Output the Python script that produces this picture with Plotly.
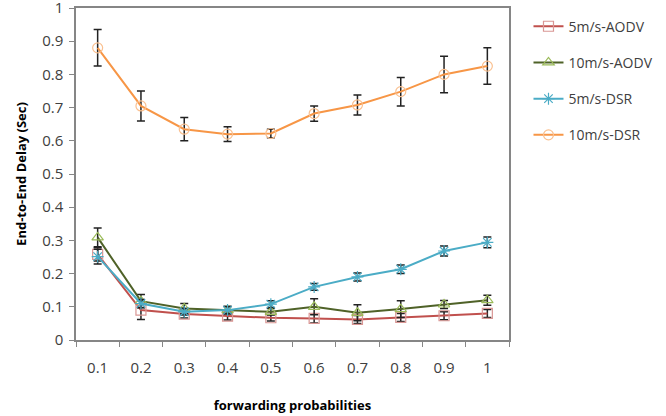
import plotly.graph_objects as go

categories = ["0.1", "0.2", "0.3", "0.4", "0.5", "0.6", "0.7", "0.8", "0.9", "1"]
y_ticks = [0, 0.1, 0.2, 0.3, 0.4, 0.5, 0.6, 0.7, 0.8, 0.9, 1]
y_tick_labels = ["0", "0.1", "0.2", "0.3", "0.4", "0.5", "0.6", "0.7", "0.8", "0.9", "1"]

aodv5 = [0.258, 0.090, 0.078, 0.072, 0.067, 0.065, 0.062, 0.068, 0.073, 0.080]
aodv5_err = [0.020, 0.028, 0.012, 0.012, 0.010, 0.014, 0.012, 0.012, 0.012, 0.012]

aodv10 = [0.309, 0.117, 0.095, 0.090, 0.085, 0.100, 0.082, 0.093, 0.107, 0.120]
aodv10_err = [0.028, 0.020, 0.015, 0.012, 0.010, 0.024, 0.024, 0.025, 0.012, 0.015]

dsr5 = [0.251, 0.110, 0.085, 0.090, 0.108, 0.160, 0.190, 0.213, 0.268, 0.294]
dsr5_err = [0.022, 0.012, 0.010, 0.010, 0.010, 0.010, 0.012, 0.013, 0.015, 0.016]

dsr10 = [0.880, 0.705, 0.635, 0.620, 0.622, 0.682, 0.708, 0.748, 0.800, 0.825]
dsr10_err = [0.055, 0.045, 0.035, 0.022, 0.013, 0.023, 0.030, 0.043, 0.055, 0.055]

series = [
    ("5m/s-AODV", aodv5, aodv5_err, "#C0504D", "square-open", "#D99694"),
    ("10m/s-AODV", aodv10, aodv10_err, "#4F6228", "triangle-up-open", "#9BBB59"),
    ("5m/s-DSR", dsr5, dsr5_err, "#4BACC6", "asterisk-open", "#4BACC6"),
    ("10m/s-DSR", dsr10, dsr10_err, "#F79646", "circle-open", "#FAC090"),
]

fig = go.Figure()
for i, (name, vals, errs, col, sym, mcol) in enumerate(series):
    fig.add_trace(go.Scatter(
        x=categories, y=vals, name=name, mode="lines+markers",
        line=dict(color=col, width=2),
        marker=dict(symbol=sym, size=10, color=mcol, line=dict(color=mcol, width=1.2)),
        error_y=dict(type="data", array=errs, visible=True, color="#222222",
                     thickness=1.5, width=4),
        legendgroup=f"g{i}",
    ))

font_family = "Open Sans, Liberation Sans, sans-serif"
fig.update_layout(
    width=666, height=416,
    margin=dict(l=76, r=157, t=8, b=76, autoexpand=False),
    paper_bgcolor="white", plot_bgcolor="white",
    font=dict(family=font_family, size=13, color="#404040"),
    showlegend=True,
    legend=dict(x=1.045, y=0.992, xanchor="left", yanchor="top",
                font=dict(size=14, color="#404040"), tracegroupgap=15,
                itemwidth=30, bgcolor="rgba(0,0,0,0)"),
    xaxis=dict(
        type="category", range=[-0.5, len(categories) - 0.5],
        tickson="boundaries", ticks="outside", ticklen=5,
        tickcolor="#868686", showline=True, linecolor="#868686", linewidth=1.5,
        mirror=True, showgrid=False, zeroline=False, ticklabelstandoff=13,
        automargin=False,
        tickfont=dict(size=15, color="#404040"),
        title=dict(text="<b>forwarding probabilities</b>", font=dict(size=13, color="#000000"), standoff=25),
    ),
    yaxis=dict(
        range=[0, 1], tickvals=y_ticks, ticktext=y_tick_labels,
        ticks="outside", ticklen=5, tickcolor="#868686",
        showline=True, linecolor="#868686", linewidth=1.5, mirror=True,
        showgrid=False, zeroline=False, ticklabelstandoff=3,
        ticklabeloverflow="allow", automargin=False,
        tickfont=dict(size=15, color="#404040"),
        title=dict(text="<b>End-to-End Delay (Sec)</b>", font=dict(size=13, color="#000000"), standoff=13),
    ),
)

fig.write_html("out.html", config={"displayModeBar": False},
               post_script="document.body.style.margin='0';")
